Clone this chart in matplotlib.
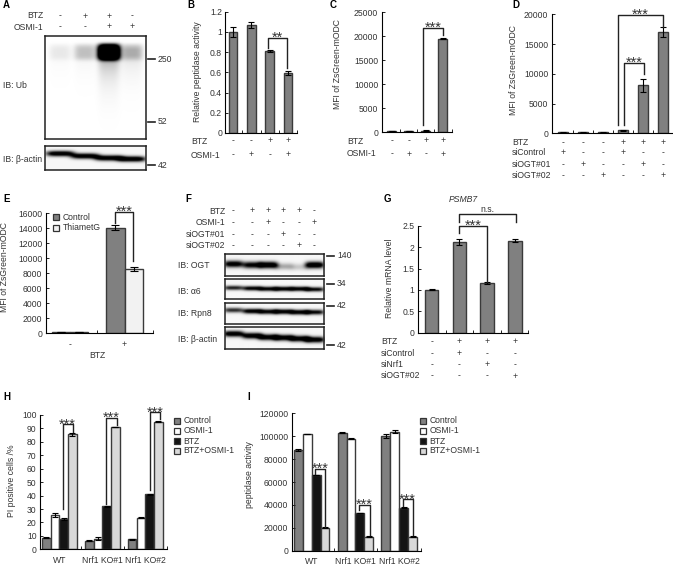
import matplotlib
matplotlib.use('Agg')
import matplotlib.pyplot as plt
import matplotlib.transforms as mtrans
from matplotlib.patches import Rectangle
import numpy as np

plt.rcParams['font.family'] = ['Liberation Sans', 'DejaVu Sans']
plt.rcParams['font.size'] = 6.2
plt.rcParams['text.color'] = '#333333'
plt.rcParams['axes.labelcolor'] = '#333333'
plt.rcParams['xtick.color'] = '#222222'
plt.rcParams['ytick.color'] = '#222222'
plt.rcParams['ytick.labelcolor'] = '#333333'

W, H = 673, 565

# panel B
b_vals = [1.0, 1.07, 0.81, 0.59]
b_errs = [0.05, 0.03, 0.01, 0.02]
b_btz = '--++'
b_osmi = '-+-+'

# panel C
c_vals = [250, 250, 350, 19500]
c_errs = [20, 20, 30, 100]

# panel D
d_vals = [150, 150, 150, 500, 8100, 17000]
d_errs = [20, 20, 20, 40, 1100, 800]
d_rows = {'BTZ': '---+++', 'siControl': '+--+--', 'siOGT#01': '-+--+-', 'siOGT#02': '--+--+'}

# panel E
e_control = [150, 14100]
e_thiamet = [150, 8600]
e_control_err = [20, 300]
e_thiamet_err = [20, 250]

# panel G
g_vals = [1.0, 2.12, 1.16, 2.15]
g_errs = [0.01, 0.07, 0.02, 0.03]
g_rows = {'BTZ': '-+++', 'siControl': '-+--', 'siNrf1': '--+-', 'siOGT#02': '---+'}

# panels H and I
groups = ['WT', 'Nrf1 KO#1', 'Nrf1 KO#2']
series = ['Control', 'OSMI-1', 'BTZ', 'BTZ+OSMI-1']
h_vals = [[8.5, 6.5, 7.5], [25.5, 8, 23.5], [22.5, 32, 41], [85.5, 91, 95]]
h_errs = [[0.3, 0.3, 0.5], [1.3, 0.8, 0.5], [0.8, 0.3, 0.4], [0.8, 0.3, 0.3]]
i_vals = [[88000, 103000, 100200], [102000, 97800, 104000], [66000, 33000, 37600], [20000, 12300, 12200]]
i_errs = [[600, 600, 2000], [300, 400, 1000], [300, 300, 300], [300, 300, 300]]
series_colors = ['#808080', '#ffffff', '#141414', '#d9d9d9']

# blots: relative band strength per lane
a_ub_top = [0.03, 0.1, 1.0, 0.1]
a_ub_smear = [0.03, 0.05, 0.42, 0.13]
a_actin = [0.95, 0.95, 0.97, 1.0]
f_ogt = [0.9, 0.85, 1.0, 0.25, 0.15, 1.0]
f_a6 = [0.7, 0.85, 0.85, 0.9, 0.9, 0.8]
f_rpn8 = [0.65, 0.9, 0.85, 0.9, 0.9, 0.8]
f_actin = [0.95, 0.95, 0.95, 0.95, 0.95, 0.95]

fig = plt.figure(figsize=(W / 100, H / 100), dpi=100)
over = fig.add_axes([0, 0, 1, 1], zorder=5)
over.set_xlim(0, W)
over.set_ylim(H, 0)
over.axis('off')


def px_axes(x0, y0, x1, y1):
    return fig.add_axes([x0 / W, 1 - y1 / H, (x1 - x0) / W, (y1 - y0) / H])


def style_axes(ax, xlim, ymax, yticks, ticklabels, xticks):
    ax.set_xlim(*xlim)
    ax.set_ylim(0, ymax)
    ax.set_yticks(yticks)
    ax.set_yticklabels(ticklabels)
    ax.set_xticks(xticks)
    ax.set_xticklabels([])
    ax.tick_params(direction='in', length=2, width=0.7, pad=2.5)
    ax.patch.set_alpha(0)
    for side in ['top', 'right']:
        ax.spines[side].set_visible(False)
    for side in ['left', 'bottom']:
        ax.spines[side].set_linewidth(0.8)


def bars(ax, vals, errs, width=0.48):
    xs = np.arange(len(vals))
    ax.bar(xs, vals, width, color='#808080', edgecolor='#3a3a3a', linewidth=1)
    ax.errorbar(xs, vals, yerr=errs, fmt='none', ecolor='black', elinewidth=0.8, capsize=2.5, capthick=0.8)


def bracket(ax, x1, x2, yl, yr, top, label='***'):
    ax.plot([x1, x1, x2, x2], [yl, top, top, yr], color='#222222', lw=1, clip_on=False, zorder=6)
    if label:
        ax.annotate(label, ((x1 + x2) / 2, top), xytext=(0, -3), textcoords='offset points',
                    ha='center', va='baseline', fontsize=10.5, annotation_clip=False)


def sign_rows(ax, rows, ys, label_x, label_ha='left'):
    trans = mtrans.blended_transform_factory(ax.transData, over.transData)
    for (name, signs), y in zip(rows.items(), ys):
        over.text(label_x, y, name, ha=label_ha, va='center')
        for i, s in enumerate(signs):
            ax.text(i, y, s, transform=trans, ha='center', va='center', clip_on=False)


def legend_px(names, colors, x, ys):
    for name, color, y in zip(names, colors, ys):
        over.add_patch(Rectangle((x - 3, y - 3), 6, 6, facecolor=color, edgecolor='#333333', lw=0.9))
        over.text(x + 7, y, name, va='center')


def blot(x0, y0, x1, y1, lanes, amps, ys, band_h, band_w, bg=0.97):
    # gel strip drawn as an image, one soft band per lane
    nx, ny = int(x1 - x0) * 2, int(y1 - y0) * 2
    gx = np.linspace(x0, x1, nx)
    gy = np.linspace(y0, y1, ny)
    xx, yy = np.meshgrid(gx, gy)
    dark = np.zeros_like(xx)
    for lane, amp, yc in zip(lanes, amps, ys):
        dark += amp * np.exp(-np.abs((xx - lane) / band_w) ** 4) * np.exp(-((yy - yc) / band_h) ** 2)
    ax = px_axes(x0, y0, x1, y1)
    ax.imshow(bg - np.clip(dark * 1.25, 0, bg), cmap='gray', vmin=0, vmax=1, aspect='auto',
              extent=[x0, x1, y1, y0], interpolation='bilinear')
    ax.set_xticks([])
    ax.set_yticks([])
    for s in ax.spines.values():
        s.set_linewidth(1.1)
        s.set_color('#222222')
    return ax


def mw_mark(x0, x1, y, label, tx):
    over.plot([x0, x1], [y, y], color='#222222', lw=1.2, clip_on=False)
    over.text(tx, y, label, va='center', clip_on=False)


# ---- panel A
a_lanes = [60, 85, 109, 132]
for name, signs, y in [('BTZ', '-++-', 16), ('OSMI-1', '--++', 27)]:
    over.text(43, y, name, ha='right', va='center')
    for lane, s in zip(a_lanes, signs):
        over.text(lane, y, s, ha='center', va='center')

x0, y0, x1, y1 = 45, 36, 146, 139
xx, yy = np.meshgrid(np.linspace(x0, x1, 202), np.linspace(y0, y1, 206))
dark = np.zeros_like(xx)
for lane, top, smear in zip(a_lanes, a_ub_top, a_ub_smear):
    profile = np.exp(-np.abs((xx - lane) / 11) ** 4)
    dark += top * 2 * profile * np.exp(-np.abs((yy - 52) / 8) ** 4)
    dark += smear * profile * np.exp(-np.clip(yy - 55, 0, None) / 16) * np.clip((yy - 42) / 8, 0, 1)
ax_a = px_axes(x0, y0, x1, y1)
ax_a.imshow(1 - np.clip(dark, 0, 1), cmap='gray', vmin=0, vmax=1, aspect='auto',
            extent=[x0, x1, y1, y0], interpolation='bilinear')
ax_a.set_xticks([])
ax_a.set_yticks([])
for s in ax_a.spines.values():
    s.set_linewidth(1.1)
    s.set_color('#222222')

blot(45, 146, 146, 170, a_lanes, a_actin, [153.5, 156, 158, 159], 2.8, 14)
mw_mark(148, 155, 59, '250', 158)
mw_mark(148, 155, 122, '52', 158)
mw_mark(148, 155, 165, '42', 158)
over.text(3, 85, 'IB: Ub', va='center')
over.text(3, 160, 'IB: β-actin', va='center')

# ---- panel B
ax = px_axes(225.5, 11.7, 297, 133)
style_axes(ax, (-0.41, 3.49), 1.2, [0, 0.2, 0.4, 0.6, 0.8, 1, 1.2],
           ['0', '0.2', '0.4', '0.6', '0.8', '1', '1.2'], [0.5, 1.5, 2.5, 3.49])
bars(ax, b_vals, b_errs)
bracket(ax, 1.9, 2.97, 0.84, 0.643, 0.943, '**')
sign_rows(ax, {'BTZ': b_btz, 'OSMI-1': b_osmi}, [141, 155], 191)
over.text(198, 72, 'Relative peptidase activity', rotation=90, ha='center', va='center')

# ---- panel C
ax = px_axes(381.7, 12.3, 451.7, 132.3)
style_axes(ax, (-0.59, 3.53), 25000, [0, 5000, 10000, 15000, 20000, 25000],
           ['0', '5000', '10000', '15000', '20000', '25000'], [0.5, 1.5, 2.5, 3.53])
bars(ax, c_vals, c_errs, 0.5)
bracket(ax, 1.83, 3.03, 1520, 20260, 21800)
sign_rows(ax, {'BTZ': b_btz, 'OSMI-1': b_osmi}, [141, 154], 347)
over.text(337, 64, 'MFI of ZsGreen-mODC', rotation=90, ha='center', va='center')

# ---- panel D
ax = px_axes(551.7, 14.3, 672.7, 133.3)
style_axes(ax, (-0.565, 5.48), 20000, [0, 5000, 10000, 15000, 20000],
           ['0', '5000', '10000', '15000', '20000'], [0.5, 1.5, 2.5, 3.5, 4.5, 5.48])
bars(ax, d_vals, d_errs, 0.5)
bracket(ax, 2.75, 5, 1400, 17860, 19880)
bracket(ax, 3.05, 4.05, 1400, 9970, 11820)
sign_rows(ax, d_rows, [142.7, 152.7, 164.3, 175.7], 512)
over.text(514, 70, 'MFI of ZsGreen-mODC', rotation=90, ha='center', va='center')

# ---- panel E
ax = px_axes(45.7, 213.3, 152.7, 333.3)
style_axes(ax, (-0.446, 1.517), 16000, list(range(0, 16001, 2000)),
           [str(v) for v in range(0, 16001, 2000)], [0.5, 1.517])
ax.bar(np.arange(2) - 0.167, e_control, 0.334, color='#808080', edgecolor='#3a3a3a', linewidth=1)
ax.bar(np.arange(2) + 0.167, e_thiamet, 0.334, color='#f2f2f2', edgecolor='#3a3a3a', linewidth=1)
ax.errorbar(np.arange(2) - 0.167, e_control, yerr=e_control_err, fmt='none', ecolor='black', elinewidth=0.8, capsize=3, capthick=0.8)
ax.errorbar(np.arange(2) + 0.167, e_thiamet, yerr=e_thiamet_err, fmt='none', ecolor='black', elinewidth=0.8, capsize=3, capthick=0.8)
bracket(ax, 0.826, 1.15, 14700, 9680, 16210)
trans = mtrans.blended_transform_factory(ax.transData, over.transData)
ax.text(0, 345, '-', transform=trans, ha='center', va='center')
ax.text(1, 345, '+', transform=trans, ha='center', va='center')
over.text(97, 355, 'BTZ', ha='center', va='center')
legend_px(['Control', 'ThiametG'], ['#808080', '#f2f2f2'], 56, [217, 227.7])
over.text(5, 267, 'MFI of ZsGreen-mODC', rotation=90, ha='center', va='center')

# ---- panel F
f_lanes = [233, 251.7, 267.7, 283, 299, 314]
f_rows = {'BTZ': '-++++-', 'OSMI-1': '--+--+', 'siOGT#01': '---+--', 'siOGT#02': '----+-'}
for (name, signs), y in zip(f_rows.items(), [211, 222.3, 234.3, 245.7]):
    over.text(225, y, name, ha='right', va='center')
    for lane, s in zip(f_lanes, signs):
        over.text(lane, y, s, ha='center', va='center')
blot(224.7, 254, 324, 276, f_lanes, f_ogt, [264, 265, 265, 266.5, 267, 265], 3.4, 9.5)
blot(224.7, 279, 324, 299.3, f_lanes, f_a6, [288.5, 289, 289.5, 289.5, 289.5, 290], 2.2, 9.5)
blot(224.7, 303.3, 324, 324.3, f_lanes, f_rpn8, [311, 312, 312.5, 312.5, 313, 313], 2.4, 9.5)
blot(224.7, 327.3, 324, 349.3, f_lanes, f_actin, [334, 336, 337.5, 338, 339, 340], 3, 10)
for y, label in [(255.7, '140'), (284, '34'), (306, '42'), (345, '42')]:
    mw_mark(327, 334, y, label, 337)
for y, label in [(265, 'IB: OGT'), (291.7, 'IB: α6'), (314, 'IB: Rpn8'), (339, 'IB: β-actin')]:
    over.text(178, y, label, va='center')

# ---- panel G
ax = px_axes(417.7, 225.7, 528.3, 332.7)
style_axes(ax, (-0.505, 3.49), 2.5, [0, 0.5, 1, 1.5, 2, 2.5],
           ['0', '0.5', '1', '1.5', '2', '2.5'], [0.5, 1.5, 2.5, 3.49])
bars(ax, g_vals, g_errs, 0.49)
bracket(ax, 0.985, 3.03, 2.593, 2.593, 2.773, None)
bracket(ax, 0.985, 2.0, 2.33, 1.19, 2.493)
sign_rows(ax, g_rows, [341.7, 353.3, 364.8, 376], 381)
over.text(390, 278, 'Relative mRNA level', rotation=90, ha='center', va='center')
over.text(463, 200, 'PSMB7', style='italic', ha='center', va='center')
over.text(487, 209, 'n.s.', ha='center', va='center')


# ---- panels H and I
def grouped(ax, vals, errs):
    offs = [-0.305, -0.1015, 0.1015, 0.305]
    xs = np.arange(len(groups))
    for off, v, e, color in zip(offs, vals, errs, series_colors):
        ax.bar(xs + off, v, 0.203, color=color, edgecolor='#3a3a3a', linewidth=1)
        ax.errorbar(xs + off, v, yerr=e, fmt='none', ecolor='black', elinewidth=0.8, capsize=2.3, capthick=0.8)


ax = px_axes(40, 415, 166.7, 549.3)
style_axes(ax, (-0.45, 2.5), 100, list(range(0, 101, 10)), [str(v) for v in range(0, 101, 10)], [0.5, 1.5, 2.5])
grouped(ax, h_vals, h_errs)
bracket(ax, 0.078, 0.311, 30, 87.6, 93.1)
bracket(ax, 1.094, 1.336, 33.5, 92.5, 97.8)
bracket(ax, 2.113, 2.346, 44.2, 96.7, 102)
for i, g in enumerate(groups):
    ax.text(i, 560.7, g, transform=mtrans.blended_transform_factory(ax.transData, over.transData),
            ha='center', va='center', clip_on=False)
legend_px(series, series_colors, 176.7, [420.7, 430.7, 441, 450.7])
over.text(12, 481, 'PI positive cells /%', rotation=90, ha='center', va='center')

ax = px_axes(291.7, 413.3, 421, 550.7)
style_axes(ax, (-0.455, 2.497), 120000, list(range(0, 120001, 20000)),
           [str(v) for v in range(0, 120001, 20000)], [0.5, 1.5, 2.497])
grouped(ax, i_vals, i_errs)
bracket(ax, 0.076, 0.312, 66700, 21000, 71300)
bracket(ax, 1.088, 1.331, 35500, 13700, 39900)
bracket(ax, 2.077, 2.305, 39300, 13700, 44900)
for i, g in enumerate(groups):
    ax.text(i, 561.7, g, transform=mtrans.blended_transform_factory(ax.transData, over.transData),
            ha='center', va='center', clip_on=False)
legend_px(series, series_colors, 422.7, [420.7, 430.7, 441, 450.7])
over.text(249, 475, 'peptidase activity', rotation=90, ha='center', va='center')

# panel letters
for letter, x, y in [('A', 3, 5), ('B', 187, 5), ('C', 330, 5), ('D', 512, 5), ('E', 3, 199),
                     ('F', 185, 199), ('G', 384, 199), ('H', 3, 397), ('I', 247, 397)]:
    over.text(x, y, letter, fontweight='bold', fontsize=7, color='black', va='center')

fig.savefig('out.png', dpi=100)
